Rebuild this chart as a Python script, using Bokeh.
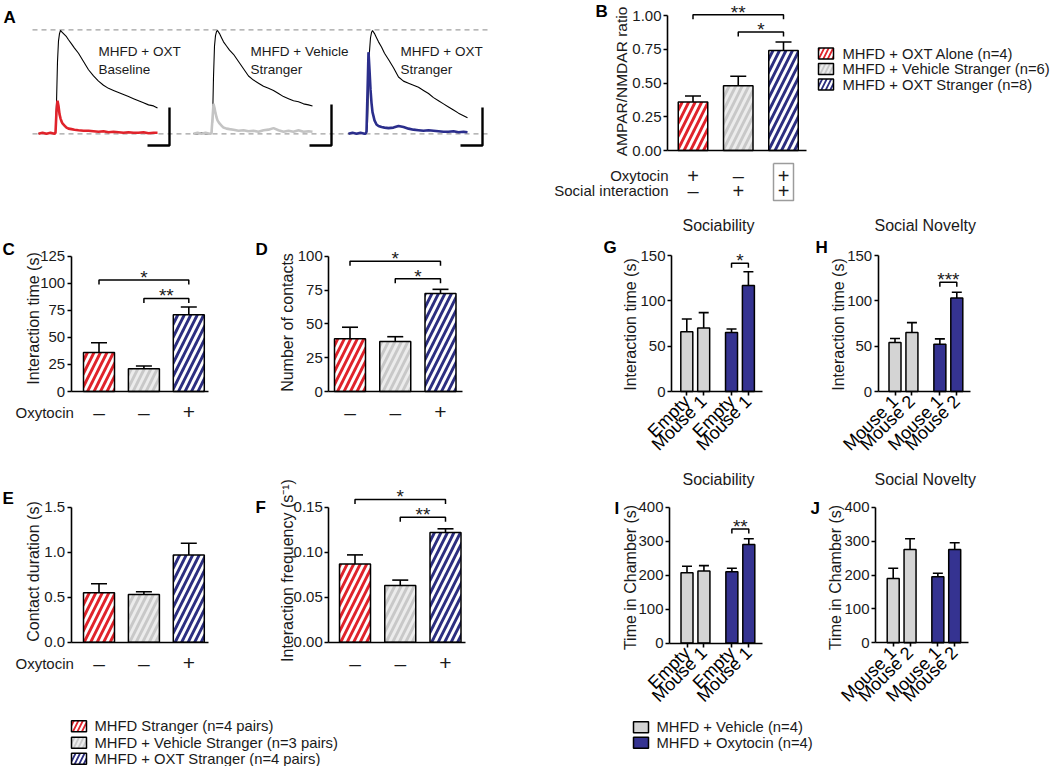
import math
from bokeh.plotting import figure
from bokeh.models import Range1d, LinearAxis, FixedTicker, NumeralTickFormatter
from bokeh.layouts import row, column
from bokeh.core.properties import value
from bokeh.embed import file_html
from bokeh.resources import INLINE

FONT = "Liberation Sans"
INK = "#1a1a1a"
RED = "#e0232b"
GRAY_H = "#c8c8c8"
GRAY_HATCH = "#ececec"
NAVY_H = "#2c2e80"
GRAY_S = "#d4d4d4"
NAVY_S = "#353391"

# ---------------- data ----------------
# Panel A: EPSC traces (normalised amplitude vs time in ms)
trace_t_ms = [0, 4, 8, 12, 16, 17, 18, 19, 20, 21, 22, 23, 24, 26, 28, 30, 33, 36, 40, 45,
              50, 55, 60, 65, 70, 75, 80, 85, 90, 95, 100, 105, 110, 115, 119]
base_nmda = [0.00, 0.01, 0.00, 0.01, 0.00, 0.02, 0.30, 0.70, 0.90, 0.97, 1.00, 0.99, 0.98, 0.96, 0.94,
             0.91, 0.87, 0.83, 0.78, 0.70, 0.62, 0.56, 0.51, 0.47, 0.44, 0.42, 0.40, 0.38, 0.36, 0.34,
             0.32, 0.30, 0.28, 0.27, 0.25]
base_ampa = [0.00, 0.01, 0.00, 0.01, 0.00, 0.01, 0.22, 0.32, 0.27, 0.19, 0.15, 0.12, 0.10, 0.08, 0.06,
             0.05, 0.045, 0.04, 0.035, 0.03, 0.03, 0.025, 0.02, 0.025, 0.015, 0.02, 0.015, 0.01, 0.015, 0.01,
             0.01, 0.015, 0.005, 0.01, 0.01]
veh_nmda = [0.00, 0.00, 0.01, 0.00, 0.00, 0.00, 0.01, 0.10, 0.55, 0.85, 0.95, 0.99, 1.00, 0.97, 0.93,
            0.89, 0.85, 0.81, 0.77, 0.70, 0.63, 0.56, 0.52, 0.49, 0.46, 0.44, 0.42, 0.39, 0.36, 0.34,
            0.32, 0.31, 0.29, 0.28, 0.27]
veh_ampa = [0.00, 0.01, 0.00, 0.01, 0.00, 0.00, 0.01, 0.15, 0.29, 0.25, 0.20, 0.16, 0.13, 0.10, 0.08,
            0.06, 0.05, 0.045, 0.04, 0.03, 0.035, 0.025, 0.03, 0.02, 0.035, 0.04, 0.055, 0.035, 0.02, 0.03,
            0.02, 0.035, 0.02, 0.025, 0.02]
oxt_nmda = [0.00, 0.01, 0.00, 0.01, 0.00, 0.00, 0.01, 0.10, 0.50, 0.80, 0.93, 0.98, 1.00, 0.97, 0.93,
            0.89, 0.84, 0.78, 0.72, 0.64, 0.55, 0.51, 0.49, 0.47, 0.45, 0.42, 0.39, 0.35, 0.32, 0.29,
            0.26, 0.23, 0.20, 0.175, 0.155]
oxt_ampa = [0.00, 0.01, 0.00, 0.01, 0.00, 0.00, 0.02, 0.40, 0.79, 0.62, 0.43, 0.30, 0.21, 0.13, 0.09,
            0.075, 0.065, 0.06, 0.055, 0.06, 0.075, 0.065, 0.05, 0.04, 0.035, 0.03, 0.035, 0.03, 0.025, 0.02,
            0.02, 0.025, 0.015, 0.02, 0.015]
trace_names = [["MHFD + OXT", "Baseline"], ["MHFD + Vehicle", "Stranger"], ["MHFD + OXT", "Stranger"]]

# Panel B
b_groups = ["MHFD + OXT Alone (n=4)", "MHFD + Vehicle Stranger (n=6)", "MHFD + OXT Stranger (n=8)"]
b_mean = [0.36, 0.48, 0.74]
b_sem = [0.044, 0.07, 0.064]
b_oxytocin = ["+", "\u2013", "+"]
b_social = ["\u2013", "+", "+"]

# Panels C-F
cf_groups = ["MHFD Stranger (n=4 pairs)", "MHFD + Vehicle Stranger (n=3 pairs)", "MHFD + OXT Stranger (n=4 pairs)"]
cf_oxytocin = ["\u2013", "\u2013", "+"]
c_mean = [36, 21, 71]
c_sem = [9, 2.5, 7]
d_mean = [39, 37, 72.5]
d_sem = [8.5, 3.5, 3]
e_mean = [0.55, 0.53, 0.97]
e_sem = [0.10, 0.03, 0.13]
f_mean = [0.087, 0.063, 0.122]
f_sem = [0.010, 0.006, 0.004]

# Panels G-J
gj_groups = ["MHFD + Vehicle (n=4)", "MHFD + Oxytocin (n=4)"]
sociability_labels = ["Empty", "Mouse 1", "Empty", "Mouse 1"]
novelty_labels = ["Mouse 1", "Mouse 2", "Mouse 1", "Mouse 2"]
g_mean = [66, 70, 65, 117]
g_sem = [14, 17, 4, 15]
h_mean = [54, 65, 52, 103]
h_sem = [4.5, 11, 6, 6.5]
i_mean = [207, 212, 210, 290]
i_sem = [19, 16, 10, 17]
j_mean = [190, 275, 195, 275]
j_sem = [30, 32, 10, 20]

POS3 = [1, 2, 3]
POS4 = [1, 2, 3.65, 4.65]
FILL3 = [RED, GRAY_H, NAVY_H]
HATCH3 = ["white", GRAY_HATCH, "white"]
FILL4 = [GRAY_S, GRAY_S, NAVY_S, NAVY_S]


# ---------------- helpers ----------------
class Panel:
    def __init__(self, rect, xmap, ymap):
        l, t, r, b = rect
        (dx0, px0), (dx1, px1) = xmap
        (dy0, py0), (dy1, py1) = ymap
        self.fx = lambda px: dx0 + (px - px0) * (dx1 - dx0) / (px1 - px0)
        self.fy = lambda py: dy0 + (py - py0) * (dy1 - dy0) / (py1 - py0)
        self.sx = abs((dx1 - dx0) / (px1 - px0))
        self.sy = abs((dy1 - dy0) / (py1 - py0))
        p = figure(width=r - l, height=b - t,
                   x_range=Range1d(self.fx(l), self.fx(r)),
                   y_range=Range1d(self.fy(b), self.fy(t)),
                   x_axis_type=None, y_axis_type=None,
                   toolbar_location=None, output_backend="svg", min_border=0)
        p.outline_line_color = None
        p.background_fill_color = "white"
        p.border_fill_color = "white"
        self.p = p

    def text(self, px, py, s, size, align="left", baseline="middle", angle=0.0,
             bold=False, color=INK):
        self.p.text(x=[self.fx(px)], y=[self.fy(py)], text=[s],
                    text_font=value(FONT), text_font_size=value(f"{size}px"),
                    text_align=value(align), text_baseline=value(baseline),
                    text_font_style=value("bold" if bold else "normal"),
                    angle=angle, text_color=color)

    def pline(self, pxs, pys, color="black", width=1.5, dash="solid"):
        self.p.line(x=[self.fx(v) for v in pxs], y=[self.fy(v) for v in pys],
                    line_color=color, line_width=width, line_dash=dash)


def style_axis(ax, size="15px"):
    ax.axis_line_color = "black"
    ax.axis_line_width = 1.6
    ax.major_tick_line_color = "black"
    ax.major_tick_line_width = 1.6
    ax.major_tick_in = 0
    ax.major_tick_out = 4
    ax.minor_tick_in = 0
    ax.minor_tick_out = 0
    ax.major_label_text_font = FONT
    ax.major_label_text_font_size = size
    ax.major_label_text_color = INK
    ax.major_label_standoff = 2


def add_axes(P, yticks, axis_px, end_px, fmt=None, xticks=None, xlabels=None):
    ya = LinearAxis(fixed_location=P.fx(axis_px), bounds=(yticks[0], yticks[-1]),
                    ticker=FixedTicker(ticks=yticks, minor_ticks=[]))
    style_axis(ya, "15px")
    if fmt:
        ya.formatter = NumeralTickFormatter(format=fmt)
    P.p.add_layout(ya, "left")
    xa = LinearAxis(fixed_location=0, bounds=(P.fx(axis_px), P.fx(end_px)),
                    ticker=FixedTicker(ticks=xticks or [], minor_ticks=[]))
    style_axis(xa, "18px")
    if xlabels:
        xa.major_label_overrides = {k: v for k, v in zip(xticks, xlabels)}
        xa.major_label_orientation = math.pi / 4
        xa.major_label_standoff = 3
        xa.major_label_text_color = "black"
    P.p.add_layout(xa, "below")


def draw_bars(P, xs, means, sems, fills, hatch_cols, bar_px, cap_px, hatched=True):
    w = bar_px * P.sx
    kw = dict(fill_color=fills, line_color="black", line_width=1.5)
    if hatched:
        kw.update(hatch_color=hatch_cols, hatch_pattern=value("/"), hatch_scale=13, hatch_weight=2.8)
    P.p.vbar(x=xs, top=means, bottom=0, width=w, **kw)
    tops = [m + s for m, s in zip(means, sems)]
    cw = cap_px * P.sx / 2
    P.p.segment(x0=xs, y0=means, x1=xs, y1=tops, line_color="black", line_width=1.6)
    P.p.segment(x0=[x - cw for x in xs], y0=tops, x1=[x + cw for x in xs], y1=tops,
                line_color="black", line_width=1.6)


def bracket(P, xa, xb, level, stars, size=19):
    dy = 4.5 * P.sy
    P.p.line(x=[xa, xa, xb, xb], y=[level - dy, level, level, level - dy],
             line_color="black", line_width=1.5)
    P.p.text(x=[(xa + xb) / 2], y=[level + 2.5 * P.sy], text=[stars],
             text_font=value(FONT), text_font_size=value(f"{size}px"),
             text_align=value("center"), text_baseline=value("alphabetic"), text_color=INK)


def legend(P, items, fills, hatch_cols, x_patch, rows, text_x, hatched):
    for name, f, hc, py in zip(items, fills, hatch_cols, rows):
        kw = dict(fill_color=f, line_color="black", line_width=1.5)
        if hatched:
            kw.update(hatch_color=hc, hatch_pattern=value("/"), hatch_scale=9, hatch_weight=2.2)
        P.p.rect(x=[P.fx(x_patch + 7.5)], y=[P.fy(py)], width=15 * P.sx, height=11 * P.sy, **kw)
        P.text(text_x, py, name, 14.8)


def signs(P, xs, labels, py):
    P.p.text(x=xs, y=[P.fy(py)] * len(xs), text=labels, text_font=value(FONT),
             text_font_size=value("21px"), text_align=value("center"),
             text_baseline=value("middle"), text_color=INK)


# ---------------- Panel A ----------------
A = Panel((0, 0, 550, 213), ((0, 38), (1, 39)), ((0, 133.3), (1, 30)))
trace_offsets_ms = [0, 155, 310]
nmda_traces = [base_nmda, veh_nmda, oxt_nmda]
ampa_traces = [base_ampa, veh_ampa, oxt_ampa]
ampa_colors = [RED, "#c4c4c4", "#2b2e8c"]
A.pline([32, 488], [29.3, 29.3], color="#a0a0a0", width=1.3, dash="5 4")
A.pline([32, 488], [133.3, 133.3], color="#a0a0a0", width=1.3, dash="5 4")
for off, nm in zip(trace_offsets_ms, nmda_traces):
    A.p.line(x=[t + off for t in trace_t_ms], y=nm, line_color="black", line_width=1.1)
for off, am, col in zip(trace_offsets_ms, ampa_traces, ampa_colors):
    A.p.line(x=[t + off for t in trace_t_ms], y=am, line_color=col, line_width=2.6)
for bar_x, bar_top, name_x, names in zip([169, 331, 482], [107, 104, 107], [98, 250, 400], trace_names):
    A.pline([bar_x - 22, bar_x, bar_x], [145, 145, bar_top], width=2.4)
    A.text(name_x, 51, names[0], 13.5)
    A.text(name_x, 69, names[1], 13.5)
A.text(3, 17, "A", 17, bold=True, color="black")

# ---------------- Panel B ----------------
B = Panel((550, 0, 1050, 213), ((1, 692.5), (3, 783)), ((0, 150), (1, 15)))
draw_bars(B, POS3, b_mean, b_sem, FILL3, HATCH3, 29.5, 16)
add_axes(B, [0, 0.25, 0.5, 0.75, 1.0], 667, 806, fmt="0.00")
bracket(B, 1, 3, 1.005, "**")
bracket(B, 2, 3, 0.877, "*")
B.text(621, 81, "AMPAR/NMDAR ratio", 15.5, align="center", angle=math.pi / 2)
B.text(595, 11, "B", 17, bold=True, color="black")
B.text(668, 175, "Oxytocin", 15, align="right")
B.text(668, 190, "Social interaction", 15, align="right")
for x, s1, s2 in zip(POS3, b_oxytocin, b_social):
    B.p.text(x=[x, x], y=[B.fy(175), B.fy(190)], text=[s1, s2], text_font=value(FONT),
             text_font_size=value("20px"), text_align=value("center"),
             text_baseline=value("middle"), text_color=INK)
B.pline([773, 793, 793, 773, 773], [163, 163, 200, 200, 163], color="#9c9c9c", width=1.5)
legend(B, b_groups, FILL3, HATCH3, 818, [53, 68.5, 84], 842, True)

# ---------------- Panel C ----------------
C = Panel((0, 213, 250, 470), ((1, 98.5), (3, 188.3)), ((0, 391), (125, 255.7)))
draw_bars(C, POS3, c_mean, c_sem, FILL3, HATCH3, 31, 16)
add_axes(C, [0, 25, 50, 75, 100, 125], 70.7, 208)
bracket(C, 1, 3, 103, "*")
bracket(C, 2, 3, 86, "**")
C.text(33, 318, "Interaction time (s)", 16, align="center", angle=math.pi / 2)
C.text(2, 249, "C", 17, bold=True, color="black")
C.text(15, 411.7, "Oxytocin", 15)
signs(C, POS3, cf_oxytocin, 411.7)

# ---------------- Panel D ----------------
D = Panel((250, 213, 580, 470), ((1, 349.5), (3, 440)), ((0, 391), (100, 255.7)))
draw_bars(D, POS3, d_mean, d_sem, FILL3, HATCH3, 31, 16)
add_axes(D, [0, 25, 50, 75, 100], 328.3, 462)
bracket(D, 1, 3, 96.3, "*")
bracket(D, 2, 3, 83.3, "*")
D.text(287, 322, "Number of contacts", 16, align="center", angle=math.pi / 2)
D.text(255, 249, "D", 17, bold=True, color="black")
signs(D, POS3, cf_oxytocin, 411.7)

# ---------------- Panel E ----------------
E = Panel((0, 470, 250, 695), ((1, 98.5), (3, 188.3)), ((0, 641.7), (1.5, 506.7)))
draw_bars(E, POS3, e_mean, e_sem, FILL3, HATCH3, 31, 16)
add_axes(E, [0, 0.5, 1.0, 1.5], 70.7, 208, fmt="0.0")
E.text(33, 571, "Contact duration (s)", 16, align="center", angle=math.pi / 2)
E.text(2, 498, "E", 17, bold=True, color="black")
E.text(15, 662.7, "Oxytocin", 15)
signs(E, POS3, cf_oxytocin, 662.7)

# ---------------- Panel F ----------------
F = Panel((250, 470, 580, 695), ((1, 354.5), (3, 445)), ((0, 641.7), (0.15, 506.7)))
draw_bars(F, POS3, f_mean, f_sem, FILL3, HATCH3, 31, 16)
add_axes(F, [0, 0.05, 0.10, 0.15], 328.3, 465, fmt="0.00")
bracket(F, 1, 3, 0.1586, "*")
bracket(F, 2, 3, 0.1389, "**")
F.text(287, 570, "Interaction frequency (s\u207b\u00b9)", 16, align="center", angle=math.pi / 2)
F.text(255, 507, "F", 17, bold=True, color="black")
signs(F, POS3, cf_oxytocin, 662.7)

# ---------------- Legend C-F ----------------
LL = Panel((0, 695, 580, 766), ((0, 0), (1, 1)), ((0, 0), (-1, 1)))
legend(LL, cf_groups, FILL3, HATCH3, 71, [725.7, 742.3, 758.3], 94, True)


# ---------------- Panels G-J ----------------
def gj_panel(rect, xmap, ymap, means, sems, yticks, axis_px, end_px, labels, title, title_px,
             letter, letter_px, ylabel, ylabel_px, title_py, letter_py, ylabel_py):
    P = Panel(rect, xmap, ymap)
    draw_bars(P, POS4, means, sems, FILL4, None, 12, 10, hatched=False)
    add_axes(P, yticks, axis_px, end_px, xticks=POS4, xlabels=labels)
    P.text(title_px, title_py, title, 16, align="center")
    P.text(letter_px, letter_py, letter, 17, bold=True, color="black")
    P.text(ylabel_px, ylabel_py, ylabel, 16, align="center", angle=math.pi / 2)
    return P


G = gj_panel((580, 213, 800, 466), ((1, 686.3), (4.65, 747.9)), ((0, 391), (150, 255)),
             g_mean, g_sem, [0, 50, 100, 150], 671, 761.7, sociability_labels,
             "Sociability", 718, "G", 603, "Interaction time (s)", 630, 225, 247, 324)
bracket(G, POS4[2], POS4[3], 141.5, "*")
H = gj_panel((800, 213, 1050, 466), ((1, 894.5), (4.65, 956.3)), ((0, 391), (150, 255)),
             h_mean, h_sem, [0, 50, 100, 150], 877.7, 970, novelty_labels,
             "Social Novelty", 924.7, "H", 815, "Interaction time (s)", 838, 225, 247, 324)
bracket(H, POS4[2], POS4[3], 120.5, "***")
I = gj_panel((580, 466, 800, 705), ((1, 686.5), (4.65, 748.3)), ((0, 642.5), (400, 506.7)),
             i_mean, i_sem, [0, 100, 200, 300, 400], 669, 761.7, sociability_labels,
             "Sociability", 718, "I", 614, "Time in Chamber (s)", 630, 479, 508, 577)
bracket(I, POS4[2], POS4[3], 336, "**")
J = gj_panel((800, 466, 1050, 705), ((1, 892.7), (4.65, 954.2)), ((0, 642.3), (400, 506.7)),
             j_mean, j_sem, [0, 100, 200, 300, 400], 875, 968, novelty_labels,
             "Social Novelty", 924.7, "J", 810, "Time in Chamber (s)", 835, 479, 508, 577)

RL = Panel((580, 705, 1050, 766), ((0, 0), (1, 1)), ((0, 0), (-1, 1)))
legend(RL, gj_groups, [GRAY_S, NAVY_S], [None, None], 633, [726.7, 742.3], 656, False)

layout = column(
    row(A.p, B.p),
    row(column(row(C.p, D.p), row(E.p, F.p), LL.p),
        column(row(G.p, H.p), row(I.p, J.p), RL.p)),
)

open("out.html", "w").write(file_html(layout, INLINE))
